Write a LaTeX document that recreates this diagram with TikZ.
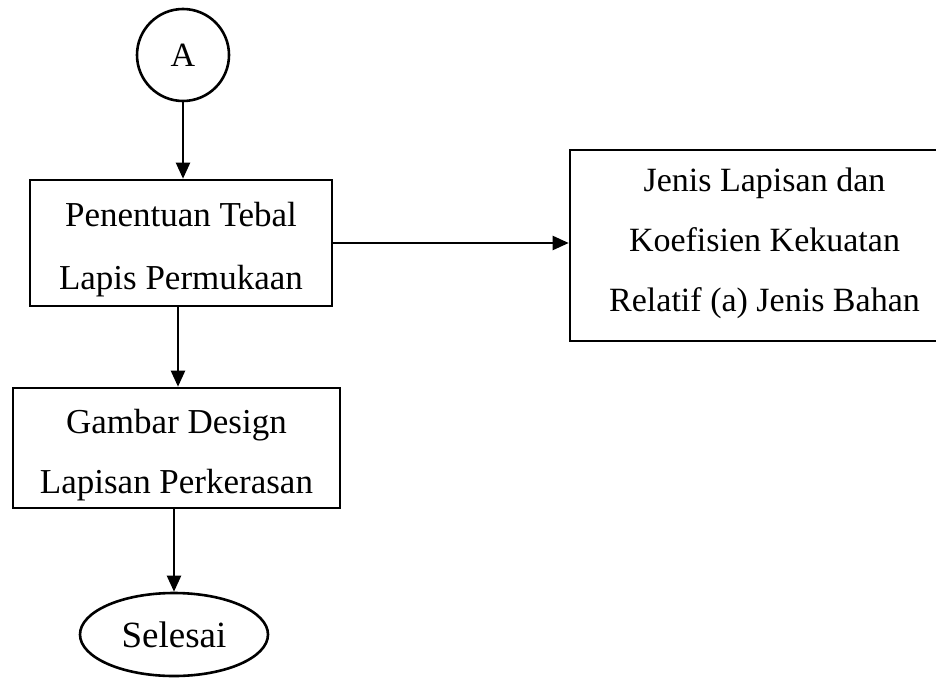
\documentclass[tikz,border=0pt]{standalone}
\usepackage{fontspec}
\setmainfont{Liberation Serif}
\usetikzlibrary{arrows.meta,shapes.geometric,calc}

\tikzset{
  every path/.style={line width=2.6pt},
  lbl/.style={align=center, inner sep=0pt},
  procbox/.style={draw, rectangle, inner sep=0pt},
  conn/.style={draw, line width=2.2pt, -{Triangle[length=16pt,width=14pt]}},
}

\begin{document}
\begin{tikzpicture}[x=1pt,y=-1pt]
  \useasboundingbox (0,0) rectangle (936,677);
  \fill[white] (0,0) rectangle (936,677);

  % connector symbol
  \node[lbl, draw, circle, minimum size=92pt, font=\fontsize{34}{40}\selectfont] (a) at (183,55) {A};

  % process boxes
  \node[procbox, minimum width=302pt, minimum height=126pt,
        label={[lbl, font=\fontsize{35}{63}\selectfont, yshift=-7pt]center:{Penentuan Tebal\\Lapis Permukaan}}]
        (tebal) at (181,243) {};
  \node[procbox, minimum width=327pt, minimum height=120pt,
        label={[lbl, font=\fontsize{35}{60}\selectfont, yshift=-7pt]center:{Gambar Design\\Lapisan Perkerasan}}]
        (gambar) at (176.5,448) {};
  \node[procbox, minimum width=395pt, minimum height=191pt,
        label={[lbl, font=\fontsize{34}{60}\selectfont, xshift=-3pt, yshift=2pt]center:{Jenis Lapisan dan\\Koefisien Kekuatan\\Relatif (a) Jenis Bahan}}]
        (jenis) at (767.5,245.5) {};

  % terminator
  \node[lbl, draw, ellipse, minimum width=188pt, minimum height=83pt, font=\fontsize{37}{40}\selectfont] (selesai) at (174,634.5)
    {Selesai};

  % connectors
  \draw[conn] (a.south) -- (a.south |- tebal.north);
  \draw[conn] (tebal.east) -- (tebal.east -| jenis.west);
  \draw[conn] (tebal.south -| 178,0) -- (gambar.north -| 178,0);
  \draw[conn] (gambar.south -| selesai.north) -- (selesai.north);
\end{tikzpicture}
\end{document}
